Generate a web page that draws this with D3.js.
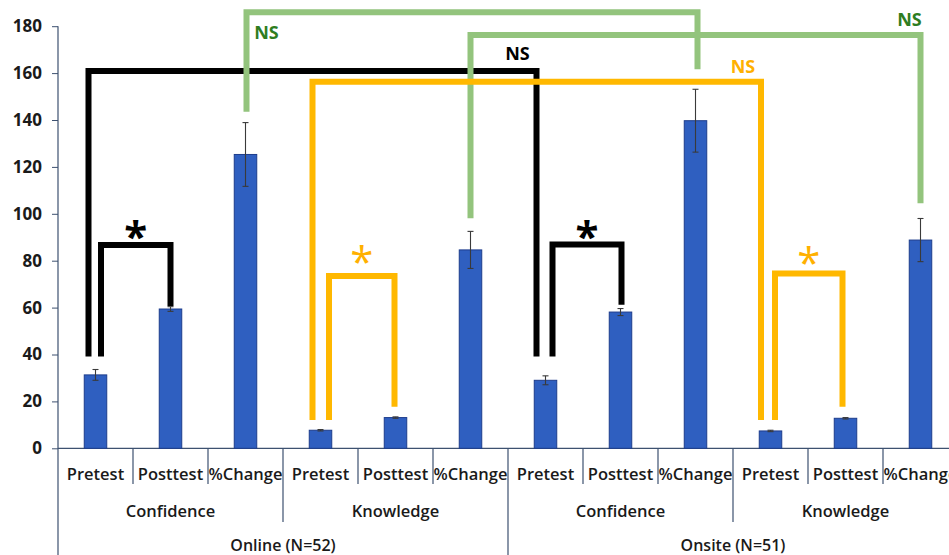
<!DOCTYPE html>
<html>
<head>
<meta charset="utf-8">
<script src="https://cdn.jsdelivr.net/npm/d3@7/dist/d3.min.js"></script>
<style>
  body { margin: 0; background: #fff; }
  svg { display: block; }
  text { font-family: "Open Sans", "DejaVu Sans", sans-serif; }
</style>
</head>
<body>
<svg id="chart" width="949" height="555"></svg>
<script>
// ---- data ----
const groups = ["Online (N=52)", "Onsite (N=51)"];
const measures = ["Confidence", "Knowledge"];
const stages = ["Pretest", "Posttest", "%Change"];
// bar order: group > measure > stage
const means  = [31.3, 59.4, 125.3, 7.7, 13.1, 84.6, 29.0, 58.1, 139.7, 7.4, 12.8, 88.8];
const errors = [2.3, 1.0, 13.6, 0.3, 0.3, 7.9, 1.9, 1.5, 13.4, 0.3, 0.3, 9.2];
const yTicks = [0, 20, 40, 60, 80, 100, 120, 140, 160, 180];

// significance comparisons: bar indices, bracket top, leg ends (data units), result
const cmpFrom   = [0, 0, 6, 3, 3, 9, 2, 5];
const cmpTo     = [6, 1, 7, 9, 4, 10, 8, 11];
const cmpTop    = [160.9, 86.7, 86.9, 156.3, 73.5, 74.5, 186.0, 176.2];
const cmpLeft   = [39.1, 39.1, 39.1, 12.1, 12.1, 12.1, 143.5, 98.1];
const cmpRight  = [39.1, 60.7, 61.2, 12.1, 17.7, 17.7, 161.6, 104.5];
const cmpLabel  = ["NS", "*", "*", "NS", "*", "*", "NS", "NS"];
const cmpKind   = ["black", "black", "black", "orange", "orange", "orange", "green", "green"];

// ---- layout ----
const W = 949, H = 555;
const x0 = 58, slot = 75;
const svg = d3.select("#chart");

const categories = d3.range(means.length);
const x = d3.scaleBand().domain(categories).range([x0, x0 + slot * categories.length]).padding(0);
const y = d3.scaleLinear().domain([0, 180]).range([448.3, 26.2]);
const barW = x.bandwidth() * 0.3;
const cx = i => x(i) + x.bandwidth() / 2;

const axisColor = "#3d5170";
const barFill = "#2f5fc0";
const barStroke = "#1d3c8c";

// y axis
const yAxis = d3.axisLeft(y).tickValues(yTicks).tickSize(6).tickPadding(10);
const gy = svg.append("g").attr("transform", `translate(${x0},0)`).call(yAxis);
gy.select(".domain").remove();
gy.selectAll(".tick line").attr("stroke", axisColor);
gy.selectAll(".tick text")
  .attr("fill", "#1a1a1a")
  .style("font-size", "17px")
  .style("font-weight", 700);
svg.append("line")
  .attr("x1", x0).attr("x2", x0)
  .attr("y1", y(180)).attr("y2", H)
  .attr("stroke", axisColor).attr("stroke-width", 1.2);

// x axis baseline
svg.append("line")
  .attr("x1", x0).attr("x2", W)
  .attr("y1", y(0)).attr("y2", y(0))
  .attr("stroke", axisColor).attr("stroke-width", 1.2);

// category separators (stage, measure, group levels)
const boundaries = d3.range(1, categories.length + 1);
svg.append("g").selectAll("line").data(boundaries).join("line")
  .attr("x1", b => x0 + b * slot).attr("x2", b => x0 + b * slot)
  .attr("y1", y(0))
  .attr("y2", b => b % 6 === 0 ? H : (b % 3 === 0 ? 522 : 484))
  .attr("stroke", axisColor).attr("stroke-width", 1.2);

// stage labels
svg.append("g").selectAll("text").data(categories).join("text")
  .attr("x", i => cx(i)).attr("y", 473.5)
  .attr("text-anchor", "middle").attr("dominant-baseline", "central")
  .style("font-size", "16.5px").style("font-weight", 600).attr("fill", "#1a1a1a")
  .text(i => stages[i % 3]);

// measure labels
const measureIdx = d3.range(groups.length * measures.length);
svg.append("g").selectAll("text").data(measureIdx).join("text")
  .attr("x", m => x0 + m * 3 * slot + 1.5 * slot).attr("y", 510)
  .attr("text-anchor", "middle").attr("dominant-baseline", "central")
  .style("font-size", "16.5px").style("font-weight", 600).attr("fill", "#1a1a1a")
  .text(m => measures[m % 2]);

// group labels
svg.append("g").selectAll("text").data(d3.range(groups.length)).join("text")
  .attr("x", g => x0 + g * 6 * slot + 3 * slot).attr("y", 544.5)
  .attr("text-anchor", "middle").attr("dominant-baseline", "central")
  .style("font-size", "16px").style("font-weight", 600).attr("fill", "#1a1a1a")
  .text(g => groups[g]);

// bars
svg.append("g").selectAll("rect").data(categories).join("rect")
  .attr("x", i => cx(i) - barW / 2)
  .attr("y", i => y(means[i]))
  .attr("width", barW)
  .attr("height", i => y(0) - y(means[i]))
  .attr("fill", barFill).attr("stroke", barStroke).attr("stroke-width", 1);

// error bars
const eb = svg.append("g").attr("stroke", "#3a3a3a").attr("stroke-width", 1.1);
eb.selectAll("line.v").data(categories).join("line").attr("class", "v")
  .attr("x1", i => cx(i)).attr("x2", i => cx(i))
  .attr("y1", i => y(means[i] + errors[i])).attr("y2", i => y(means[i] - errors[i]));
eb.selectAll("line.t").data(categories).join("line").attr("class", "t")
  .attr("x1", i => cx(i) - 3).attr("x2", i => cx(i) + 3)
  .attr("y1", i => y(means[i] + errors[i])).attr("y2", i => y(means[i] + errors[i]));
eb.selectAll("line.b").data(categories).join("line").attr("class", "b")
  .attr("x1", i => cx(i) - 3).attr("x2", i => cx(i) + 3)
  .attr("y1", i => y(means[i] - errors[i])).attr("y2", i => y(means[i] - errors[i]));

// bracket styling and placement
const kindStroke = { black: "#000000", orange: "#ffb800", green: "#93c47d" };
const kindText   = { black: "#000000", orange: "#ffb000", green: "#2f7d1f" };
// leg offsets from bar centres (px) and label anchor offsets
const legDx = [[-7, -9], [5.5, 0], [7, 1], [-8, -9.5], [8.5, -1], [4.5, -3], [1, 2], [0, 0]];
const labelPos = [
  { at: "right", dx: -19, dy: -18 },
  { at: "mid", dx: 0, dy: -15 },
  { at: "mid", dx: 0, dy: -15 },
  { at: "right", dx: -18, dy: -16 },
  { at: "mid", dx: 0, dy: -20 },
  { at: "mid", dx: 0, dy: -17 },
  { at: "left", dx: 20, dy: 20 },
  { at: "right", dx: -11, dy: -16 }
];
const drawOrder = [0, 1, 2, 6, 7, 3, 4, 5];

const br = svg.append("g");
drawOrder.forEach(k => {
  const xl = cx(cmpFrom[k]) + legDx[k][0];
  const xr = cx(cmpTo[k]) + legDx[k][1];
  const yt = y(cmpTop[k]);
  br.append("path")
    .attr("d", `M${xl},${y(cmpLeft[k])}V${yt}H${xr}V${y(cmpRight[k])}`)
    .attr("fill", "none")
    .attr("stroke", kindStroke[cmpKind[k]])
    .attr("stroke-width", 6)
    .attr("stroke-linejoin", "miter")
    .attr("stroke-linecap", "butt");
});
drawOrder.forEach(k => {
  const xl = cx(cmpFrom[k]) + legDx[k][0];
  const xr = cx(cmpTo[k]) + legDx[k][1];
  const yt = y(cmpTop[k]);
  const p = labelPos[k];
  const ax = p.at === "left" ? xl : p.at === "right" ? xr : (xl + xr) / 2;
  const isStar = cmpLabel[k] === "*";
  const fs = isStar ? 42 : 18;
  const t = br.append("text")
    .attr("x", ax + p.dx)
    .attr("text-anchor", "middle")
    .attr("fill", kindText[cmpKind[k]])
    .style("font-size", fs + "px")
    .style("font-weight", isStar && cmpKind[k] === "orange" ? 400 : 700)
    .text(cmpLabel[k]);
  if (isStar) {
    t.attr("y", yt + p.dy + fs * 0.5);
  } else {
    t.attr("y", yt + p.dy).attr("dominant-baseline", "central");
  }
});
</script>
</body>
</html>
